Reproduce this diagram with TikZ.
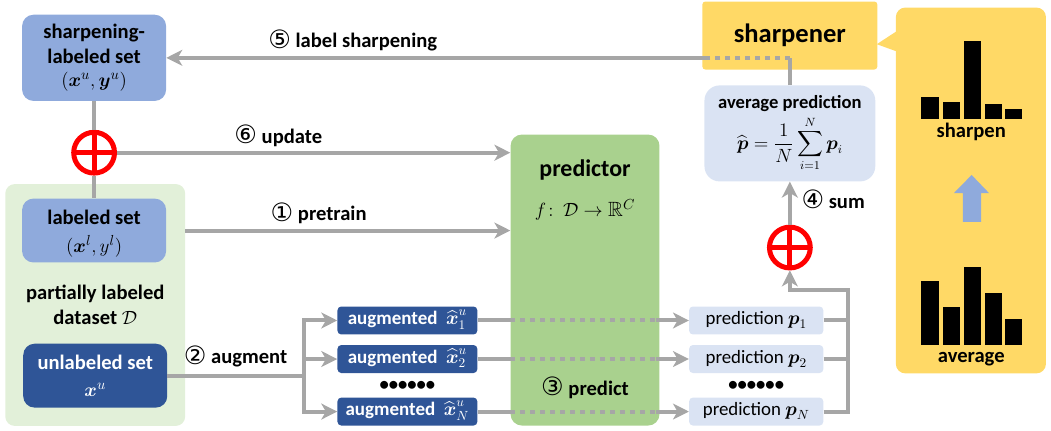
\documentclass[tikz,border=0pt]{standalone}
\usepackage{amsmath,amssymb}
\usepackage{fontspec}
\setmainfont{Carlito}
\newfontfamily\circfont{DejaVu Sans}
\usepackage{tikz}
\usetikzlibrary{arrows.meta}
\definecolor{setblue}{HTML}{8FAADC}
\definecolor{darkblue}{HTML}{2F5597}
\definecolor{paleblue}{HTML}{DAE3F3}
\definecolor{palegreen}{HTML}{E2F0D9}
\definecolor{predgreen}{HTML}{A9D18E}
\definecolor{sharpyellow}{HTML}{FFD966}
\definecolor{linegray}{HTML}{A6A6A6}
\newcommand{\cnum}[1]{\smash{\raisebox{-.5pt}{\circfont\mdseries\fontsize{19}{19}\selectfont #1}}}
\tikzstyle{labelbox} = [rectangle, rounded corners=.3cm,
minimum width=3.81cm,
text centered,
align=center,
inner sep=0pt,
fill=setblue,
font=\bfseries\fontsize{15.5}{18.5}\selectfont]
\tikzstyle{unlabelbox} = [labelbox,
minimum height=1.69cm,
fill=darkblue,
text=white]
\tikzstyle{augbox} = [rectangle, rounded corners=.1cm,
minimum width=3.70cm,
minimum height=.74cm,
text height=10pt,
text depth=4pt,
inner sep=0pt,
fill=darkblue,
text=white,
font=\bfseries\fontsize{14.3}{16}\selectfont]
\tikzstyle{predbox} = [rectangle, rounded corners=.1cm,
minimum width=3.55cm,
minimum height=.74cm,
text height=10pt,
text depth=4pt,
inner sep=0pt,
fill=paleblue,
font=\fontsize{14.2}{16}\selectfont]
\tikzstyle{caption} = [inner sep=1pt, text centered, align=center,
font=\bfseries\fontsize{15.5}{18.5}\selectfont]
\tikzstyle{dotrow} = [inner sep=0pt, font=\bfseries\fontsize{14}{14}\selectfont]
\tikzstyle{oplus} = [circle, draw=red, line width=3.75pt,
minimum size=1.08cm,
inner sep=0pt,
path picture={
\draw [red, line width=3.75pt] (path picture bounding box.north) -- (path picture bounding box.south);
\draw [red, line width=3.75pt] (path picture bounding box.west) -- (path picture bounding box.east);
}]
\tikzstyle{link} = [line width=3pt, draw=linegray]
\tikzstyle{arrow} = [link, -{Stealth[length=.42cm,width=.42cm,inset=.12cm]}]
\tikzstyle{hidden} = [link, dash pattern=on 3.75pt off 3.75pt]
\begin{document}
\begin{tikzpicture}[node distance=2cm]
\useasboundingbox (0,0) rectangle (27.81,-11.40);

\node (sharpset) [labelbox, minimum height=2.28cm] at (2.49,-1.53) {sharpening-\\labeled set\\[-1pt]$(\boldsymbol{x}^u,\boldsymbol{y}^u)$};

\node (dataset) [rectangle, rounded corners=.25cm, minimum width=4.76cm, minimum height=6.40cm, fill=palegreen, below of=sharpset, xshift=.03cm, yshift=-4.54cm] {};

\node (plus1) [oplus, below of=sharpset, yshift=-.51cm] {};
\node (labeled) [labelbox, minimum height=1.69cm, below of=plus1, yshift=-.06cm] {\rule{0pt}{15.5pt}labeled set\\[2pt]$(\boldsymbol{x}^l,y^l)$};
\node (dataname) [caption, below of=labeled, xshift=.03cm, yshift=.03cm] {partially labeled\\dataset $\mathcal{D}$};
\node (unlabeled) [unlabelbox, below of=dataname, yshift=.13cm] {unlabeled set\\[2pt]$\boldsymbol{x}^u$};

\node (aug1) [augbox, right of=unlabeled, xshift=6.26cm, yshift=1.46cm] {augmented \ $\widehat{\boldsymbol{x}}_1^u$};
\node (aug2) [augbox, below of=aug1, yshift=.98cm] {augmented \ $\widehat{\boldsymbol{x}}_2^u$};
\node (augN) [augbox, below of=aug2, yshift=.61cm] {augmented \ $\widehat{\boldsymbol{x}}_N^u$};
\node (augdots) [dotrow, below of=aug2, yshift=1.30cm] {\textbullet\textbullet\textbullet\textbullet\textbullet\textbullet};

\node (predictor) [rectangle, rounded corners=.3cm, minimum width=3.94cm, minimum height=7.70cm, fill=predgreen, right of=aug1, xshift=2.70cm, yshift=1.07cm] {};
\node (predname) [caption, yshift=-.95cm, font=\bfseries\fontsize{18}{20}\selectfont] at (predictor.north) {predictor};
\node (predfun) [caption, below of=predname, yshift=.94cm] {$f\colon\,\mathcal{D}\to\mathbb{R}^C$};
\node (predstep) [caption, below of=predictor, yshift=-.90cm] {\cnum{③} predict};

\node (pred1) [predbox, right of=aug1, xshift=7.23cm] {prediction $\boldsymbol{p}_1$};
\node (pred2) [predbox, below of=pred1, yshift=.98cm] {prediction $\boldsymbol{p}_2$};
\node (predN) [predbox, below of=pred2, yshift=.61cm] {prediction $\boldsymbol{p}_N$};
\node (preddots) [dotrow, below of=pred2, yshift=1.30cm] {\textbullet\textbullet\textbullet\textbullet\textbullet\textbullet};

\node (plus2) [oplus, above of=pred1, xshift=.89cm, yshift=-.07cm] {};
\node (avg) [labelbox, rounded corners=.4cm, minimum width=4.52cm, minimum height=2.54cm, fill=paleblue, above of=plus2, yshift=1.02cm] {};
\node (avgname) [caption, yshift=-.48cm, font=\bfseries\fontsize{14}{16}\selectfont] at (avg.north) {average prediction};
\node (avgsum) [inner sep=0pt, font=\fontsize{13.5}{16}\selectfont, below of=avgname, yshift=.92cm] {$\widehat{\boldsymbol{p}}=\dfrac{1}{N}\displaystyle\sum_{i=1}^{N}\boldsymbol{p}_i$};

\node (sharpener) [rectangle, rounded corners=.08cm, minimum width=4.63cm, minimum height=1.80cm, fill=sharpyellow, above of=avg, yshift=.59cm, font=\bfseries\fontsize{20}{22}\selectfont] {sharpener};

\node (panel) [rectangle, rounded corners=.25cm, minimum width=3.97cm, minimum height=9.68cm, fill=sharpyellow, right of=sharpener, xshift=2.79cm, yshift=-4.10cm] {};
\fill [sharpyellow] (23.20,-1.17) -- (23.78,-.79) -- (23.78,-1.38) -- cycle;

\foreach \xa/\xb/\ytop in {24.37/24.85/2.57, 24.95/25.40/2.70, 25.51/25.96/1.08, 26.06/26.51/2.75, 26.59/27.04/2.88}
  \fill [black] (\xa,-3.14) rectangle (\xb,-\ytop);
\foreach \xa/\xb/\ytop in {24.37/24.85/7.44, 24.95/25.40/8.12, 25.51/25.96/7.06, 26.06/26.51/7.75, 26.59/27.04/8.44}
  \fill [black] (\xa,-9.13) rectangle (\xb,-\ytop);
\fill [setblue] (25.71,-4.63) -- (26.17,-5.11) -- (25.96,-5.11) -- (25.96,-5.87) -- (25.48,-5.87) -- (25.48,-5.11) -- (25.24,-5.11) -- cycle;
\node (sharpenname) [caption] at (25.70,-3.49) {sharpen};
\node (averagename) [caption] at (25.70,-9.50) {average};

\coordinate (turn) at (avg.north |- sharpset.east);
\coordinate (sharpin) at ([xshift=.16cm]sharpset.east -| sharpener.west);
\coordinate (busN) at ([xshift=.65cm]predN.east);
\coordinate (bustop) at ([yshift=-.53cm]plus2.south);

\draw [link] (avg.north) -- (turn);
\draw [hidden] (turn) -- (sharpin);
\draw [arrow] (sharpin) -- node[caption, anchor=south, pos=.656, yshift=.08cm] {\cnum{⑤} label sharpening} (sharpset.east);

\draw [link] (sharpset.south) -- (plus1.north);
\draw [link] (plus1.south) -- (labeled.north);
\draw [arrow] (plus1.east) -- node[caption, anchor=south, pos=.41, yshift=.08cm] {\cnum{⑥} update} (plus1.east -| predictor.west);
\draw [arrow] (labeled -| dataset.east) -- node[caption, anchor=south, pos=.41, yshift=.08cm] {\cnum{①} pretrain} (labeled -| predictor.west);

\coordinate (split) at ([xshift=3.60cm]unlabeled.east);
\draw [link] (unlabeled.east) -- node[caption, anchor=south, yshift=.14cm] {\cnum{②} augment} (split);
\draw [arrow] (split) |- (aug1.west);
\draw [arrow] (split) |- (aug2.west);
\draw [arrow] (split) |- (augN.west);

\foreach \i in {1,2,N} {
\draw [link] (aug\i.east) -- (aug\i -| predictor.west);
\draw [hidden] (aug\i -| predictor.west) -- ([xshift=-.10cm]aug\i -| predictor.east);
\draw [arrow] ([xshift=-.10cm]aug\i -| predictor.east) -- (pred\i.west);
}

\draw [link] (pred1.east) -- (pred1.east -| busN);
\draw [link] (pred2.east) -- (pred2.east -| busN);
\draw [arrow] (predN.east) -- (busN) |- (bustop) -- (plus2.south);
\draw [arrow] (plus2.north) -- node[caption, anchor=west, xshift=.22cm] {\cnum{④} sum} (avg.south);

\end{tikzpicture}
\end{document}
